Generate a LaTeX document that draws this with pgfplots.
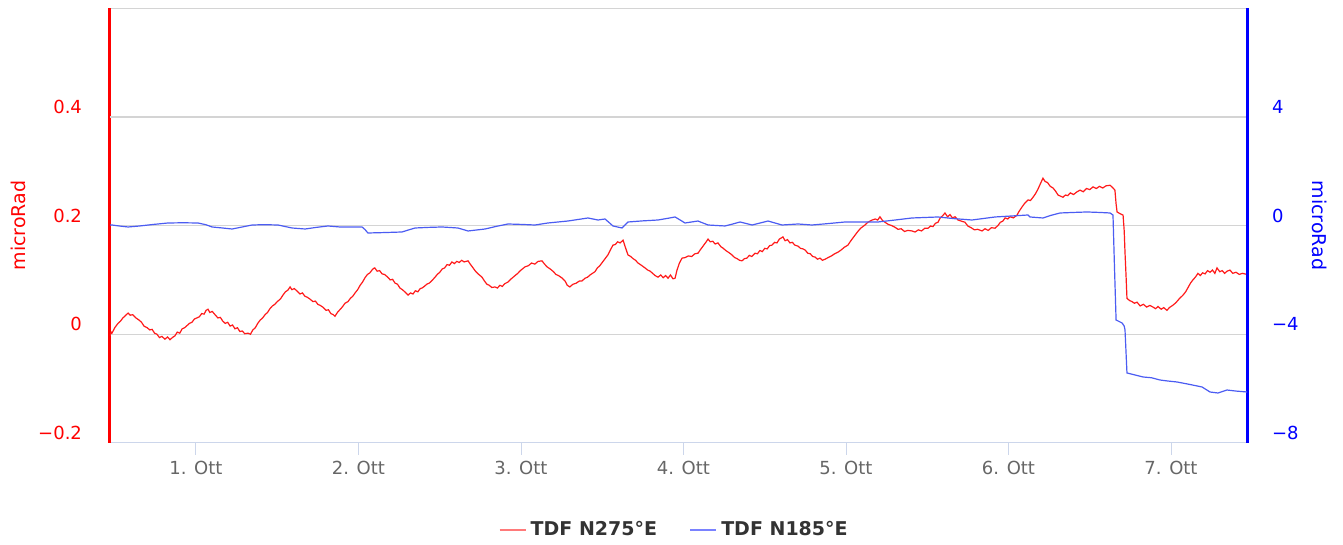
\documentclass[border=0pt]{standalone}
\usepackage{fontspec}
\setmainfont{DejaVu Sans}
\usepackage{pgfplots}
\pgfplotsset{compat=1.18}
\definecolor{serred}{HTML}{FF1A1A}
\definecolor{serblue}{HTML}{4B5CF2}
\definecolor{axred}{HTML}{FF0000}
\definecolor{axblue}{HTML}{0000FF}
\definecolor{legred}{HTML}{FF7A7A}
\definecolor{legblue}{HTML}{7A82FF}
\definecolor{xaxiscol}{HTML}{CCD6EB}
\definecolor{gridcol}{HTML}{D4D4D4}
\definecolor{labgray}{HTML}{666666}
\definecolor{legtext}{HTML}{333333}

\begin{document}
\begin{tikzpicture}
\path[use as bounding box] (-55pt,-51pt) rectangle (616.5pt,221.5pt);

% left axis: TDF N275E
\begin{axis}[
  scale only axis, width=568.5pt, height=217.5pt,
  xmin=0.4708, xmax=7.4677,
  ymin=-0.2, ymax=0.6,
  axis x line*=bottom, axis y line*=left,
  x axis line style={draw=xaxiscol, line width=0.5pt, -},
  y axis line style={draw=axred, line width=1.5pt, -},
  xtick={1,2,3,4,5,6,7},
  xticklabels={1. Ott,2. Ott,3. Ott,4. Ott,5. Ott,6. Ott,7. Ott},
  xtick style={draw=xaxiscol, line width=0.5pt},
  tick align=outside, major tick length=6pt,
  xticklabel style={font=\fontsize{9}{10}\selectfont, text=labgray, anchor=base, yshift=-10pt},
  ytick={-0.2,0,0.2,0.4,0.6},
  yticklabels={−0.2,0,0.2,0.4,},
  ytick style={draw=none},
  yticklabel style={font=\fontsize{9}{10}\selectfont, text=axred, anchor=east, xshift=-4.5pt, yshift=5pt},
  ymajorgrids, grid style={gridcol, line width=0.5pt},
  extra y ticks={0.4}, extra y tick labels={},
  extra y tick style={grid style={gridcol, line width=1pt}},
  ylabel={microRad},
  ylabel style={font=\fontsize{9.5}{11}\selectfont, text=axred, at={(-46pt,108.75pt)}, anchor=center, rotate=0},
]
\addplot[serred, line width=0.6pt] coordinates {
(0.471,-0.003)(0.478,0.004)(0.483,0.002)(0.50,0.012)(0.52,0.020)(0.535,0.024)(0.55,0.030)(0.565,0.034)
(0.582,0.039)(0.595,0.035)(0.61,0.036)(0.63,0.030)(0.65,0.026)(0.665,0.022)(0.68,0.015)(0.70,0.012)
(0.715,0.008)(0.73,0.009)(0.745,0.002)(0.76,0.000)(0.775,-0.006)(0.79,-0.004)(0.809,-0.009)(0.825,-0.005)
(0.84,-0.010)(0.855,-0.006)(0.87,-0.003)(0.885,0.004)(0.90,0.002)(0.915,0.010)(0.93,0.012)(0.945,0.016)
(0.96,0.020)(0.975,0.022)(0.99,0.028)(1.005,0.030)(1.02,0.032)(1.035,0.038)(1.05,0.037)(1.062,0.044)
(1.074,0.046)(1.085,0.040)(1.10,0.042)(1.12,0.035)(1.135,0.030)(1.15,0.031)(1.165,0.024)(1.18,0.020)
(1.195,0.022)(1.21,0.015)(1.225,0.017)(1.24,0.010)(1.255,0.012)(1.27,0.005)(1.285,0.006)(1.30,0.001)
(1.32,0.002)(1.335,0.000)(1.35,0.008)(1.365,0.012)(1.38,0.020)(1.395,0.026)(1.41,0.030)(1.425,0.036)
(1.44,0.040)(1.455,0.047)(1.47,0.052)(1.485,0.055)(1.50,0.060)(1.52,0.065)(1.535,0.072)(1.55,0.078)
(1.565,0.081)(1.579,0.087)(1.59,0.082)(1.605,0.084)(1.62,0.080)(1.64,0.074)(1.655,0.076)(1.67,0.070)
(1.685,0.068)(1.70,0.065)(1.72,0.060)(1.735,0.061)(1.75,0.055)(1.765,0.053)(1.78,0.050)(1.80,0.044)
(1.815,0.045)(1.83,0.038)(1.845,0.036)(1.855,0.033)(1.87,0.040)(1.885,0.045)(1.90,0.050)(1.917,0.057)
(1.935,0.060)(1.95,0.066)(1.965,0.070)(1.979,0.076)(1.995,0.082)(2.01,0.090)(2.025,0.096)(2.04,0.104)
(2.055,0.110)(2.07,0.113)(2.083,0.118)(2.092,0.121)(2.10,0.122)(2.115,0.116)(2.13,0.117)(2.145,0.111)
(2.16,0.110)(2.18,0.105)(2.195,0.100)(2.21,0.101)(2.225,0.094)(2.24,0.092)(2.255,0.085)(2.27,0.082)
(2.285,0.078)(2.305,0.072)(2.32,0.076)(2.335,0.074)(2.35,0.080)(2.365,0.078)(2.38,0.084)(2.391,0.085)
(2.405,0.088)(2.42,0.092)(2.435,0.094)(2.45,0.098)(2.471,0.105)(2.485,0.110)(2.50,0.114)(2.515,0.120)
(2.53,0.122)(2.545,0.128)(2.56,0.127)(2.575,0.133)(2.59,0.130)(2.605,0.134)(2.62,0.132)(2.635,0.136)
(2.65,0.133)(2.674,0.135)(2.69,0.128)(2.705,0.122)(2.72,0.116)(2.74,0.110)(2.76,0.105)(2.775,0.098)
(2.79,0.092)(2.805,0.090)(2.82,0.086)(2.84,0.087)(2.855,0.085)(2.87,0.090)(2.885,0.088)(2.90,0.093)
(2.92,0.096)(2.94,0.102)(2.96,0.107)(2.98,0.112)(3.00,0.118)(3.025,0.124)(3.045,0.126)(3.065,0.131)
(3.085,0.129)(3.105,0.134)(3.129,0.135)(3.145,0.129)(3.16,0.124)(3.18,0.120)(3.20,0.115)(3.215,0.110)
(3.23,0.108)(3.25,0.104)(3.271,0.098)(3.285,0.090)(3.30,0.087)(3.32,0.092)(3.34,0.094)(3.36,0.098)
(3.375,0.098)(3.394,0.103)(3.41,0.105)(3.425,0.109)(3.44,0.112)(3.455,0.115)(3.47,0.122)(3.485,0.126)
(3.50,0.132)(3.52,0.140)(3.535,0.146)(3.55,0.155)(3.566,0.164)(3.58,0.165)(3.595,0.170)(3.61,0.168)
(3.628,0.173)(3.64,0.162)(3.658,0.146)(3.675,0.143)(3.69,0.139)(3.705,0.136)(3.72,0.131)(3.74,0.127)
(3.763,0.122)(3.78,0.118)(3.795,0.116)(3.81,0.112)(3.825,0.108)(3.843,0.105)(3.86,0.109)(3.875,0.104)
(3.89,0.108)(3.905,0.103)(3.92,0.109)(3.935,0.102)(3.948,0.103)(3.96,0.118)(3.975,0.131)(3.991,0.140)
(4.01,0.141)(4.03,0.144)(4.05,0.143)(4.07,0.148)(4.089,0.149)(4.105,0.156)(4.12,0.162)(4.135,0.168)
(4.151,0.175)(4.165,0.170)(4.18,0.171)(4.195,0.166)(4.212,0.168)(4.23,0.161)(4.245,0.158)(4.26,0.154)
(4.28,0.150)(4.298,0.146)(4.315,0.141)(4.33,0.139)(4.345,0.136)(4.36,0.135)(4.375,0.139)(4.39,0.140)
(4.405,0.145)(4.42,0.143)(4.44,0.149)(4.455,0.148)(4.47,0.154)(4.485,0.152)(4.50,0.158)(4.515,0.157)
(4.53,0.163)(4.545,0.164)(4.56,0.169)(4.575,0.168)(4.59,0.175)(4.612,0.179)(4.625,0.172)(4.64,0.174)
(4.655,0.168)(4.67,0.169)(4.685,0.164)(4.705,0.162)(4.72,0.158)(4.735,0.157)(4.748,0.155)(4.765,0.149)
(4.78,0.148)(4.795,0.143)(4.809,0.142)(4.825,0.138)(4.84,0.140)(4.855,0.136)(4.871,0.138)(4.89,0.141)
(4.91,0.144)(4.93,0.148)(4.951,0.151)(4.97,0.155)(4.99,0.160)(5.012,0.164)(5.03,0.172)(5.05,0.180)
(5.07,0.188)(5.09,0.195)(5.117,0.201)(5.135,0.206)(5.16,0.210)(5.18,0.212)(5.195,0.210)(5.209,0.216)
(5.225,0.209)(5.24,0.206)(5.26,0.202)(5.28,0.200)(5.30,0.197)(5.32,0.193)(5.34,0.194)(5.36,0.189)
(5.38,0.191)(5.406,0.190)(5.425,0.188)(5.445,0.192)(5.465,0.190)(5.485,0.195)(5.505,0.195)(5.52,0.199)
(5.535,0.198)(5.55,0.204)(5.566,0.206)(5.58,0.214)(5.595,0.218)(5.609,0.223)(5.625,0.216)(5.64,0.220)
(5.655,0.214)(5.671,0.216)(5.69,0.210)(5.71,0.208)(5.732,0.206)(5.75,0.199)(5.77,0.196)(5.79,0.192)
(5.81,0.193)(5.837,0.190)(5.855,0.194)(5.875,0.191)(5.895,0.196)(5.917,0.195)(5.935,0.200)(5.95,0.206)
(5.965,0.208)(5.979,0.214)(5.995,0.212)(6.01,0.216)(6.03,0.214)(6.052,0.219)(6.065,0.226)(6.083,0.234)
(6.10,0.241)(6.12,0.247)(6.135,0.246)(6.151,0.252)(6.165,0.258)(6.18,0.266)(6.195,0.276)(6.212,0.287)
(6.225,0.281)(6.24,0.279)(6.257,0.272)(6.274,0.269)(6.29,0.263)(6.305,0.256)(6.32,0.254)(6.335,0.252)
(6.35,0.256)(6.365,0.255)(6.38,0.260)(6.40,0.257)(6.422,0.262)(6.44,0.265)(6.46,0.262)(6.48,0.268)
(6.50,0.266)(6.52,0.271)(6.54,0.268)(6.56,0.272)(6.58,0.269)(6.60,0.273)(6.625,0.274)(6.64,0.270)
(6.655,0.265)(6.662,0.240)(6.668,0.225)(6.685,0.222)(6.705,0.219)(6.712,0.190)(6.717,0.150)(6.723,0.110)
(6.729,0.066)(6.745,0.062)(6.76,0.060)(6.775,0.057)(6.791,0.059)(6.81,0.052)(6.83,0.055)(6.85,0.050)
(6.87,0.053)(6.889,0.050)(6.905,0.047)(6.92,0.051)(6.94,0.046)(6.955,0.049)(6.975,0.044)(6.99,0.049)
(7.01,0.053)(7.03,0.058)(7.05,0.065)(7.074,0.072)(7.09,0.078)(7.105,0.086)(7.12,0.094)(7.135,0.100)
(7.15,0.105)(7.166,0.112)(7.18,0.108)(7.195,0.113)(7.21,0.111)(7.225,0.117)(7.24,0.114)(7.255,0.118)
(7.27,0.112)(7.283,0.122)(7.30,0.115)(7.315,0.117)(7.33,0.112)(7.345,0.116)(7.363,0.118)(7.38,0.112)
(7.40,0.114)(7.42,0.110)(7.44,0.112)(7.468,0.110)
};
\end{axis}

% right axis: TDF N185E
\begin{axis}[
  scale only axis, width=568.5pt, height=217.5pt,
  xmin=0.4708, xmax=7.4677,
  ymin=-8, ymax=8,
  axis x line=none, axis y line*=right,
  y axis line style={draw=axblue, line width=1.5pt, -},
  ytick={-8,-4,0,4},
  yticklabels={−8,−4,0,4},
  ytick style={draw=none},
  yticklabel style={font=\fontsize{9}{10}\selectfont, text=axblue, anchor=west, xshift=9pt, yshift=5pt},
  ylabel={microRad},
  ylabel style={font=\fontsize{9.5}{11}\selectfont, text=axblue, at={(605pt,108.75pt)}, anchor=center, rotate=180},
  legend style={at={(0.497,-0.2)}, anchor=center, draw=none, fill=none,
    legend columns=2, font=\fontsize{9.5}{11}\selectfont\bfseries, text=legtext,
    /tikz/every even column/.append style={column sep=14pt},
    legend cell align=left},
  legend image code/.code={\draw[#1, line width=1.1pt] (0pt,0pt) -- (13pt,0pt);},
]
\addlegendimage{legred}
\addlegendentry{TDF N275°E}
\addplot[serblue, line width=0.6pt, forget plot] coordinates {
(0.471,0.018)(0.483,0.018)(0.53,-0.02)(0.582,-0.055)(0.65,-0.02)(0.74,0.04)(0.828,0.092)(0.92,0.10)
(1.012,0.092)(1.06,0.03)(1.099,-0.055)(1.16,-0.09)(1.222,-0.129)(1.28,-0.06)(1.345,0.018)(1.42,0.03)
(1.505,0.018)(1.55,-0.04)(1.591,-0.092)(1.671,-0.129)(1.74,-0.07)(1.812,-0.018)(1.886,-0.055)(2.022,-0.055)
(2.04,-0.15)(2.058,-0.276)(2.16,-0.26)(2.268,-0.239)(2.31,-0.16)(2.348,-0.092)(2.43,-0.07)(2.514,-0.055)
(2.612,-0.092)(2.674,-0.202)(2.779,-0.129)(2.85,-0.03)(2.92,0.055)(3.00,0.04)(3.086,0.018)(3.166,0.092)
(3.23,0.13)(3.289,0.165)(3.35,0.22)(3.412,0.276)(3.474,0.202)(3.517,0.239)(3.54,0.12)(3.566,-0.018)
(3.622,-0.092)(3.659,0.129)(3.75,0.17)(3.843,0.202)(3.90,0.26)(3.948,0.313)(3.98,0.20)(4.009,0.092)
(4.089,0.165)(4.151,0.018)(4.255,-0.018)(4.30,0.05)(4.348,0.129)(4.422,0.018)(4.47,0.09)(4.52,0.165)
(4.606,0.018)(4.705,0.055)(4.791,0.018)(4.89,0.07)(4.994,0.129)(5.197,0.129)(5.30,0.20)(5.406,0.276)
(5.566,0.313)(5.67,0.25)(5.775,0.202)(5.917,0.313)(6.02,0.35)(6.12,0.386)(6.132,0.313)(6.212,0.276)
(6.26,0.37)(6.317,0.460)(6.40,0.48)(6.483,0.497)(6.56,0.48)(6.625,0.460)(6.643,0.386)(6.652,-1.50)
(6.662,-3.476)(6.699,-3.586)(6.712,-3.700)(6.717,-3.844)(6.729,-5.425)(6.78,-5.50)(6.828,-5.572)(6.88,-5.60)
(6.932,-5.683)(6.98,-5.72)(7.037,-5.756)(7.11,-5.84)(7.191,-5.940)(7.24,-6.124)(7.289,-6.161)(7.345,-6.051)
(7.40,-6.09)(7.468,-6.124)
};
\addlegendimage{legblue}
\addlegendentry{TDF N185°E}
\end{axis}
\end{tikzpicture}
\end{document}
